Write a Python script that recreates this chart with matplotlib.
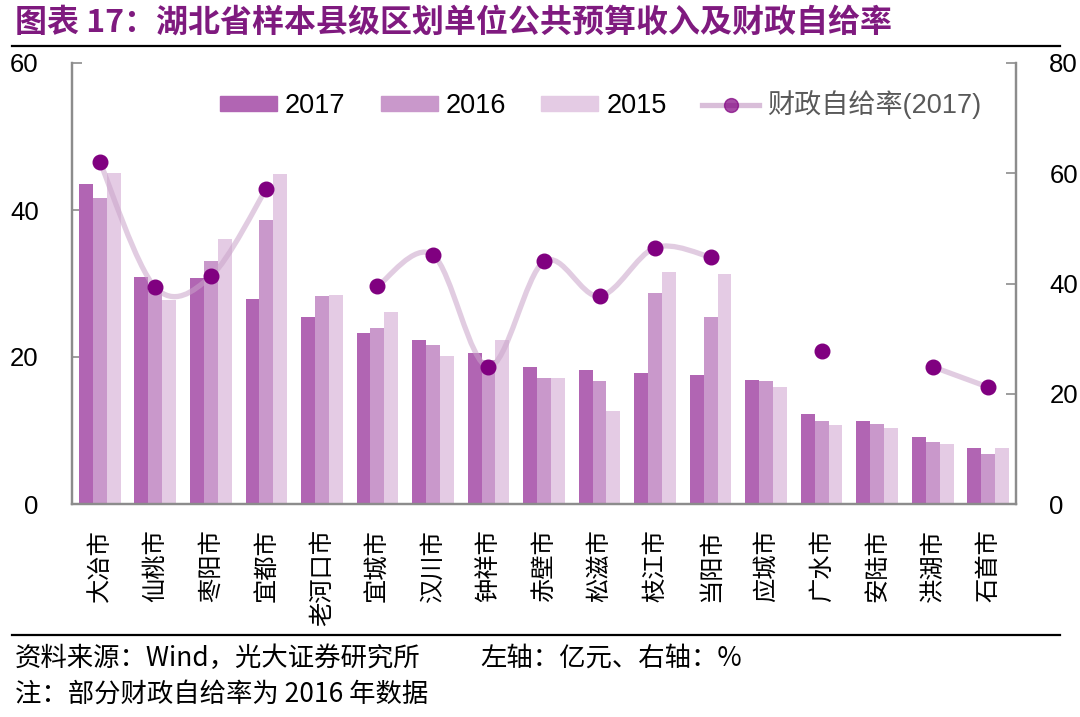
import numpy as np
import matplotlib
matplotlib.use("Agg")
import matplotlib.pyplot as plt
from matplotlib.path import Path
from matplotlib.patches import PathPatch, Patch
from matplotlib.lines import Line2D

plt.rcParams['font.family'] = ['Liberation Sans', 'Noto Sans CJK SC', 'DejaVu Sans']

categories = ["大冶市", "仙桃市", "枣阳市", "宜都市", "老河口市", "宜城市", "汉川市", "钟祥市",
              "赤壁市", "松滋市", "枝江市", "当阳市", "应城市", "广水市", "安陆市", "洪湖市", "石首市"]
rev_2017 = [43.6, 30.9, 30.7, 27.9, 25.5, 23.3, 22.3, 20.6, 18.6, 18.2, 17.8, 17.6, 16.9, 12.2, 11.3, 9.05, 7.56]
rev_2016 = [41.6, 29.0, 33.0, 38.6, 28.3, 24.0, 21.6, 19.6, 17.2, 16.7, 28.7, 25.5, 16.7, 11.3, 10.9, 8.5, 6.8]
rev_2015 = [45.1, 27.7, 36.0, 44.9, 28.5, 26.1, 20.2, 22.3, 17.1, 12.7, 31.6, 31.3, 15.9, 10.7, 10.3, 8.1, 7.56]
self_ratio = [62.1, 39.3, 41.3, 57.2, np.nan, 39.5, 45.2, 24.9, 44.0, 37.7, 46.5, 44.8, np.nan, 27.7, np.nan, 24.9, 21.2]
left_ticks = [0, 20, 40, 60]
right_ticks = [0, 20, 40, 60, 80]
series_names = ["2017", "2016", "2015", "财政自给率(2017)"]

c17, c16, c15 = "#b165b3", "#c998cb", "#e4cbe4"
line_c = "#c9a3c9"
mark_c = "#800080"
spine_c = "#8c8c8c"

W, H = 1080, 717
fig = plt.figure(figsize=(W / 100, H / 100), dpi=100)
ax = fig.add_axes([72 / W, 1 - 504 / H, (1016 - 72) / W, (504 - 63) / H])
ax2 = ax.twinx()

x = np.arange(len(categories))
bw = 0.25
ax.bar(x - bw, rev_2017, bw, color=c17, zorder=2)
ax.bar(x, rev_2016, bw, color=c16, zorder=2)
ax.bar(x + bw, rev_2015, bw, color=c15, zorder=2)

ax.set_xlim(-0.5, len(categories) - 0.5)
ax.set_ylim(0, 60)
ax.set_yticks(left_ticks)
ax2.set_ylim(0, 80)
ax2.set_yticks(right_ticks)

# smoothed line (Catmull-Rom style Bezier through the data points) per contiguous run
y = np.array(self_ratio, dtype=float)
runs = []
cur = []
for i, v in enumerate(y):
    if np.isnan(v):
        if cur:
            runs.append(cur)
        cur = []
    else:
        cur.append(i)
if cur:
    runs.append(cur)

for run in runs:
    if len(run) < 2:
        continue
    pts = np.array([[x[i], y[i]] for i in run])
    verts = [tuple(pts[0])]
    codes = [Path.MOVETO]
    n = len(pts)
    for k in range(n - 1):
        p0 = pts[k - 1] if k > 0 else pts[k]
        p1 = pts[k]
        p2 = pts[k + 1]
        p3 = pts[k + 2] if k + 2 < n else pts[k + 1]
        c1 = p1 + (p2 - p0) / 6.0
        c2 = p2 - (p3 - p1) / 6.0
        verts += [tuple(c1), tuple(c2), tuple(p2)]
        codes += [Path.CURVE4] * 3
    ax2.add_patch(PathPatch(Path(verts, codes), facecolor="none", edgecolor=line_c,
                            lw=3.8, alpha=0.55, zorder=3, capstyle="round"))

ax2.plot(x, y, linestyle="none", marker="o", markersize=10.5, color=mark_c, zorder=4)

for a in (ax, ax2):
    a.spines["top"].set_visible(False)
    for s in ("left", "right", "bottom"):
        a.spines[s].set_color(spine_c)
        a.spines[s].set_linewidth(1.6)
ax.tick_params(axis="y", direction="in", length=7, color=spine_c, width=1.2,
               labelsize=18.5, pad=24)
ax2.tick_params(axis="y", direction="in", length=7, color=spine_c, width=1.2,
                labelsize=18.5, pad=24)
ax.set_xticks(x)
ax.set_xticklabels(categories, rotation=90, fontsize=17.5,
                   family=["Noto Sans CJK SC", "DejaVu Sans"])
ax.tick_params(axis="x", length=0, pad=18)

handles = [Patch(color=c17), Patch(color=c16), Patch(color=c15),
           Line2D([0], [0], color=line_c, lw=3.8, alpha=0.7, marker="o",
                  markersize=10, markerfacecolor=mark_c, markeredgecolor=mark_c)]
leg = ax.legend(handles, series_names, loc="center", bbox_to_anchor=(0.56, 0.905),
                ncol=4, frameon=False, fontsize=19.5, handlelength=2.1, handleheight=0.5,
                handletextpad=0.3, columnspacing=1.3)
leg.get_texts()[3].set_color("#595959")

# title and decorations
fig.text(15 / W, 1 - 23 / H, "图表 17：湖北省样本县级区划单位公共预算收入及财政自给率",
         fontsize=23, fontweight="bold", color="#7f1a7f", va="center", ha="left",
         family=["Noto Sans CJK SC", "DejaVu Sans"])
fig.add_artist(Line2D([12 / W, 1060 / W], [1 - 46 / H, 1 - 46 / H], color="black", lw=1.6))
fig.add_artist(Line2D([12 / W, 1060 / W], [1 - 635 / H, 1 - 635 / H], color="black", lw=1.6))
fig.text(15 / W, 1 - 658 / H, "资料来源：Wind，光大证券研究所", fontsize=19, va="center",
         ha="left", family=["Noto Sans CJK SC", "DejaVu Sans"])
fig.text(480 / W, 1 - 658 / H, "左轴：亿元、右轴：%", fontsize=19, va="center",
         ha="left", family=["Noto Sans CJK SC", "DejaVu Sans"])
fig.text(15 / W, 1 - 694 / H, "注：部分财政自给率为 2016 年数据", fontsize=19, va="center",
         ha="left", family=["Noto Sans CJK SC", "DejaVu Sans"])

fig.savefig("out.png", dpi=100, facecolor="white")
